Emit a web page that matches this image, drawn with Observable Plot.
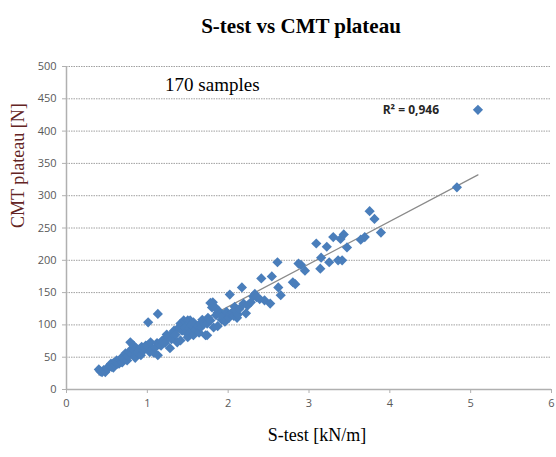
<!DOCTYPE html>
<html>
<head>
<meta charset="utf-8">
<script src="https://cdn.jsdelivr.net/npm/d3@7"></script>
<script src="https://cdn.jsdelivr.net/npm/@observablehq/plot@0.6"></script>
<style>
  html, body { margin: 0; padding: 0; background: #fff; }
</style>
</head>
<body>
<div id="chart"></div>
<script>
// S-test [kN/m] values (x) and CMT plateau [N] values (y)
const sTest = [
  0.40,0.42,0.44,0.46,0.48,0.50,0.51,0.53,0.54,0.55,0.56,0.58,0.58,0.60,0.61,0.62,0.63,0.65,0.66,0.67,
  0.68,0.69,0.70,0.71,0.73,0.74,0.75,0.76,0.78,0.79,0.80,0.81,0.83,0.84,0.85,0.86,0.88,0.90,0.92,0.93,
  0.95,0.97,0.98,1.00,1.01,
  1.03,1.04,1.06,1.08,1.10,1.12,1.13,1.13,1.15,1.17,1.18,1.20,1.22,1.24,1.26,1.28,1.30,1.31,1.33,1.35,
  1.37,1.39,1.41,1.41,1.43,1.45,1.47,1.48,1.50,1.50,
  1.52,1.53,1.53,1.55,1.57,1.57,1.60,1.62,1.64,1.66,1.66,1.68,1.70,1.72,1.74,1.74,1.75,1.78,1.78,1.80,
  1.81,1.82,1.84,1.85,1.87,1.87,1.88,1.90,1.92,1.94,1.94,1.96,1.98,
  2.01,2.02,2.03,2.05,2.07,2.08,2.09,2.11,2.12,2.14,2.17,2.19,2.22,2.24,2.28,2.31,2.33,2.35,2.39,2.41,
  2.45,2.52,2.54,
  2.61,2.62,2.65,2.80,2.83,2.87,2.90,2.95,
  3.09,3.15,3.14,3.22,3.25,3.30,3.36,3.39,3.41,3.43,3.47,3.64,3.69,3.75,3.81,3.89,
  4.83,5.09
];
const cmtPlateau = [
  31,28,27,30,27,33,32,36,37,40,35,34,41,38,42,45,40,40,45,48,
  43,42,50,47,56,50,45,52,58,73,62,55,68,60,49,64,58,62,53,66,
  60,64,68,68,104,
  58,73,62,57,65,72,53,117,70,68,75,77,72,85,81,64,78,87,91,85,
  73,96,76,102,91,107,96,88,81,107,
  95,88,107,100,84,104,92,98,88,96,102,108,102,84,102,84,111,107,134,127,
  135,96,127,115,119,98,122,117,108,111,115,105,120,
  111,147,117,119,114,128,122,111,116,125,158,133,118,130,135,144,148,143,140,172,
  138,133,175,
  197,158,146,166,163,195,193,184,
  226,204,187,221,197,236,200,233,200,240,220,232,236,276,264,243,
  313,433
];
const xTicks = [0, 1, 2, 3, 4, 5, 6];
const yTicks = [0, 50, 100, 150, 200, 250, 300, 350, 400, 450, 500];
const titleText = "S-test vs CMT plateau";
const xLabel = "S-test [kN/m]";
const yLabel = "CMT plateau [N]";
const sampleNote = "170 samples";
const r2Note = "R² = 0,946";

const data = sTest.map((x, i) => ({x, y: cmtPlateau[i]}));

const serif = "'Liberation Serif', 'Times New Roman', serif";
const sans = "'Open Sans', 'DejaVu Sans', sans-serif";

const chart = Plot.plot({
  width: 556,
  height: 457,
  marginTop: 66,
  marginLeft: 66,
  marginRight: 5,
  marginBottom: 68,
  style: {background: "#fff", fontFamily: sans},
  x: {domain: [0, 6]},
  y: {domain: [0, 500]},
  marks: [
    Plot.gridY(yTicks.filter(d => d > 0), {stroke: "#a0a0a0", strokeOpacity: 1, strokeDasharray: "1.5,1"}),
    Plot.ruleY([0], {stroke: "#b0b0b0", strokeWidth: 1.5}),
    Plot.ruleX([0], {stroke: "#b0b0b0", strokeWidth: 1.5}),
    Plot.axisY({ticks: yTicks, tickFormat: "d", tickSize: 4, tickPadding: 6, stroke: "#b0b0b0", fill: "#595959", fontSize: 11, label: null}),
    Plot.axisX({ticks: xTicks, tickFormat: "d", tickSize: 4, tickPadding: 6, stroke: "#b0b0b0", fill: "#595959", fontSize: 11, label: null}),
    Plot.linearRegressionY(data, {x: "x", y: "y", ci: 0, stroke: "#8a8a8a", strokeWidth: 1.2}),
    Plot.dot(data, {x: "x", y: "y", symbol: "diamond2", r: 4.6, fill: "#4a7ebb", stroke: "none"}),
    Plot.text([titleText], {frameAnchor: "top", dx: -8, dy: -48, fontFamily: serif, fontSize: 21, fontWeight: "bold", fill: "#000"}),
    Plot.text([xLabel], {frameAnchor: "bottom", dx: 8, dy: 51, fontFamily: serif, fontSize: 18, fill: "#000"}),
    Plot.text([yLabel], {frameAnchor: "left", dx: -48, rotate: -90, fontFamily: serif, fontSize: 18, fill: "#632423"}),
    Plot.text([sampleNote], {x: () => 1.22, y: () => 472, textAnchor: "start", fontFamily: serif, fontSize: 19, fill: "#000"}),
    Plot.text([r2Note], {x: () => 4.26, y: () => 433, textAnchor: "middle", fontFamily: sans, fontSize: 12, fontWeight: "bold", fill: "#262626"})
  ]
});
document.getElementById("chart").appendChild(chart);
</script>
</body>
</html>
